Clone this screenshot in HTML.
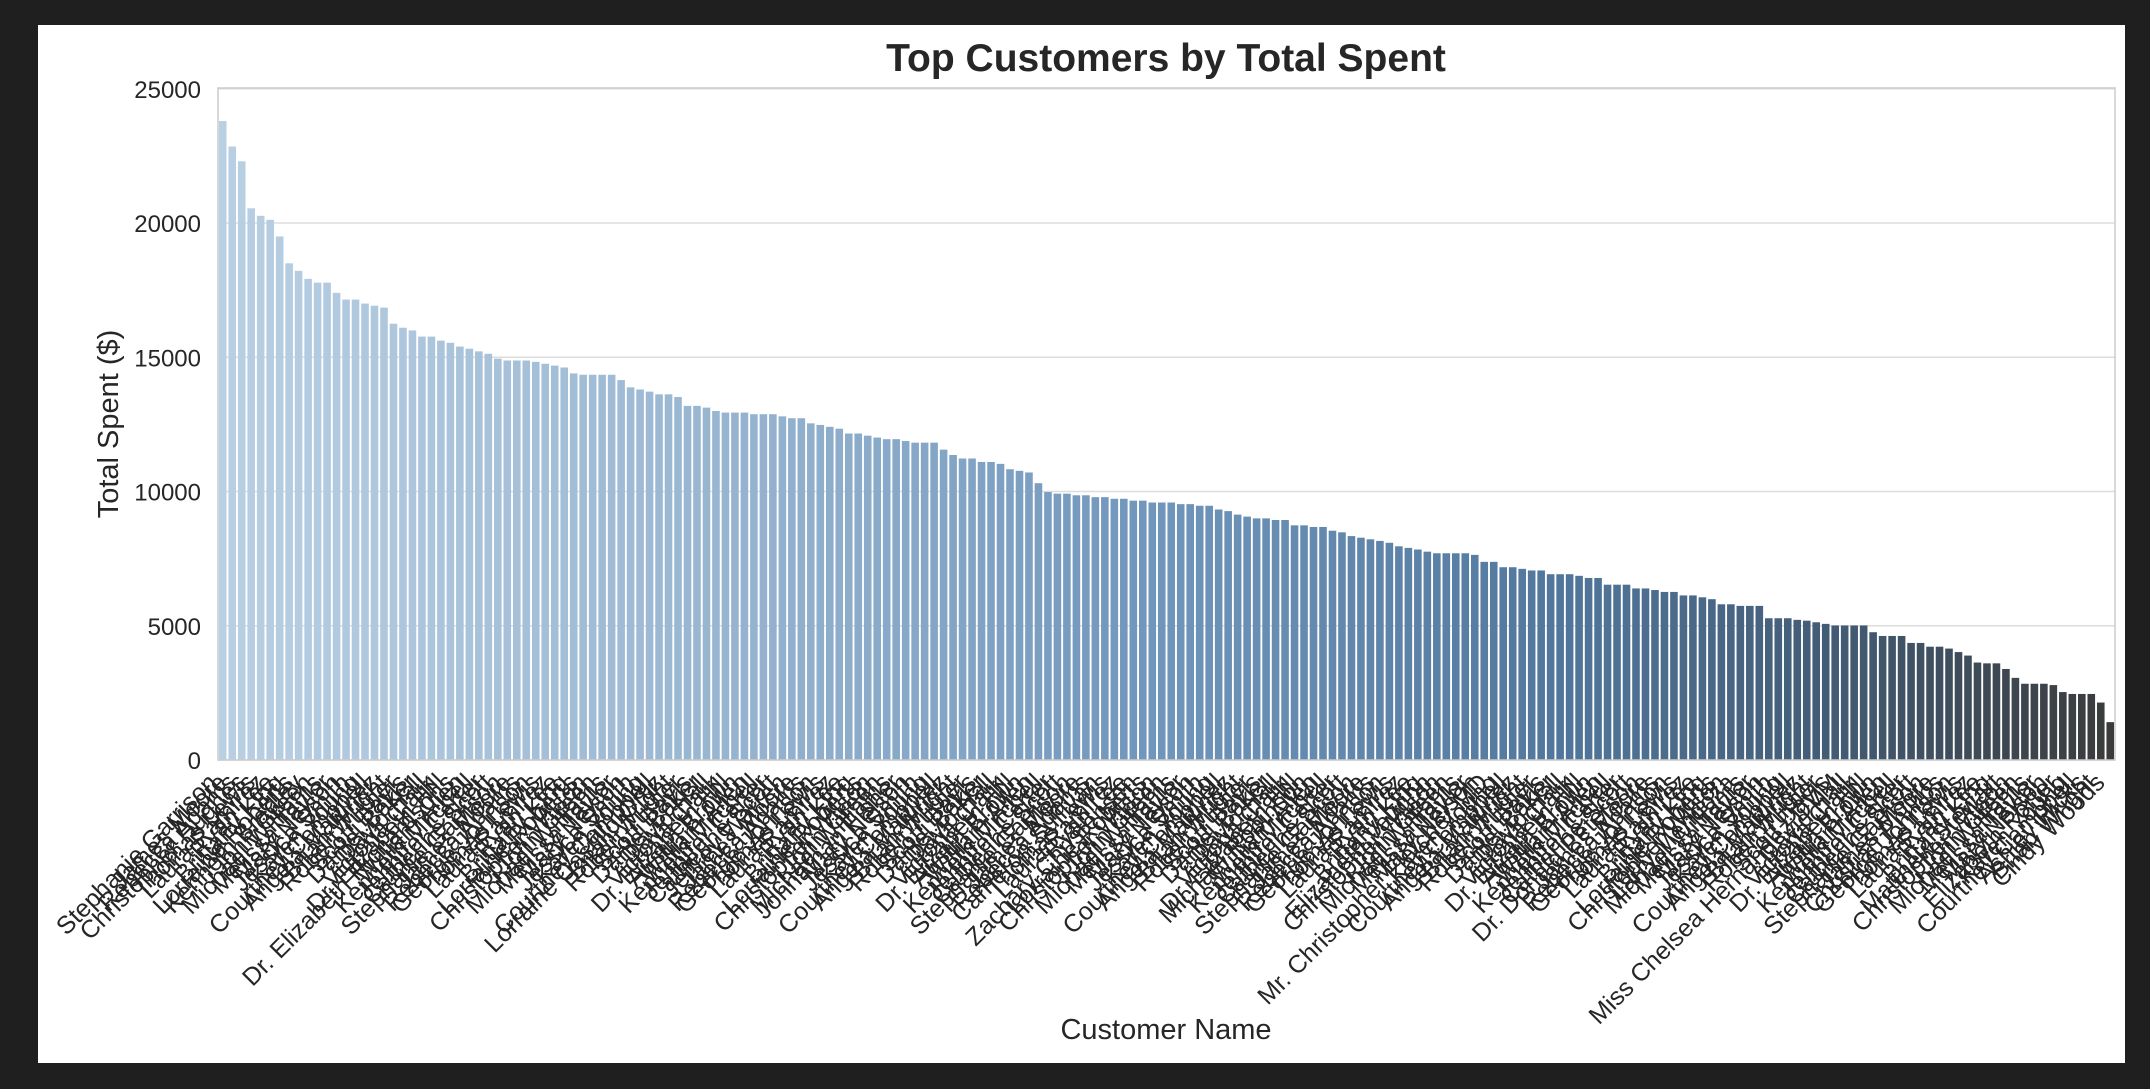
<!DOCTYPE html>
<html><head><meta charset="utf-8"><style>
html,body{margin:0;padding:0;background:#1f1f1f;}
svg{display:block;font-family:"Liberation Sans",Arial,sans-serif;}
</style></head><body>
<svg id="chart" width="2150" height="1089" viewBox="0 0 2150 1089" xmlns="http://www.w3.org/2000/svg">
<rect x="0" y="0" width="2150" height="1089" fill="#1f1f1f"/>
<rect x="38" y="25" width="2087" height="1038" fill="#ffffff"/>
<g id="grid"></g>
<g id="bars"></g>
<rect x="218" y="88" width="1897" height="672" fill="none" stroke="#cccccc" stroke-width="1.5"/>
<g id="yticks"></g>
<g id="xticks"></g>
<text x="1166" y="71" text-anchor="middle" font-size="39" font-weight="bold" fill="#262626">Top Customers by Total Spent</text>
<text x="1166" y="1039" text-anchor="middle" font-size="29" fill="#262626">Customer Name</text>
<text transform="translate(118,424) rotate(-90)" text-anchor="middle" font-size="29" fill="#262626">Total Spent ($)</text>
</svg>
<script>
const values = [23800,22850,22300,20550,20270,20120,19500,18500,18220,17920,17780,17780,17400,17150,17150,17000,16920,16850,16250,16100,16000,15770,15770,15620,15540,15400,15320,15220,15130,14950,14880,14880,14880,14830,14760,14690,14620,14400,14350,14350,14350,14350,14150,13880,13800,13720,13620,13620,13520,13190,13190,13125,13000,12940,12940,12940,12880,12880,12880,12800,12730,12730,12540,12480,12410,12340,12160,12160,12080,12010,11950,11950,11880,11820,11820,11820,11560,11360,11230,11230,11100,11100,11030,10830,10770,10710,10310,9980,9920,9920,9860,9860,9790,9790,9730,9730,9660,9660,9590,9590,9590,9530,9530,9470,9470,9330,9270,9140,9066,9000,9000,8940,8940,8740,8740,8680,8680,8540,8480,8340,8280,8220,8160,8090,7960,7900,7840,7760,7700,7700,7700,7700,7640,7380,7380,7180,7180,7120,7060,7060,6920,6920,6920,6860,6780,6780,6530,6530,6530,6390,6390,6330,6260,6260,6130,6130,6060,5990,5800,5800,5740,5740,5740,5280,5280,5280,5220,5190,5130,5070,5010,5010,5010,5010,4760,4620,4620,4620,4360,4360,4220,4220,4150,4020,3890,3630,3600,3600,3390,3060,2840,2840,2840,2790,2530,2460,2460,2460,2140,1410];
const firstNames = ["Stephanie","Mary","William","Christopher","David","Laura","Brian","James","Jessica","Kenneth","John","Victoria","Ryan","Robert","Rebecca","Karen","Jennifer","Michael","Dr. Elizabeth","Brittany","Scott","George","Courtney","Catherine","Melissa","Austin","Lorraine","Daniel","Thomas","Angela"];
const lastNames = ["Garrison","Williams","Hall","Johnson","Smith","Brown","Lee","Martinez","Carter","Wilson","Davis","Moore","Taylor","Clark","Lewis","Young","Allen","King","Wright","Scott","Green","Baker","Adams","Nelson","Hill","Ramirez","Campbell","Mitchell","Roberts","Turner"];
const specialNames = {0:"Stephanie Garrison",3:"Christopher Hughes",9:"Kenneth Bradley",25:"Dr. Elizabeth Richardsons",47:"Lorraine Castillo Ortiz",60:"Jeffrey Warren",72:"Johnathan Fisher",93:"Cameron Sullivan",97:"Zachary Christensen",115:"Michael Robinson",134:"Mr. Christopher Fletcher MD",128:"Elizabeth Vaughn",150:"Dr. Donald Peterson",160:"Larry Mendoza",171:"Miss Chelsea Hernandez DVM",182:"Christian Phillips",188:"Matthew Stewart",194:"Elizabeth Porter",197:"Ashley Hicks",199:"Cindy Woods"};
const names = values.map((v,i)=> specialNames[i] || (firstNames[(i*7)%firstNames.length]+" "+lastNames[(i*11)%lastNames.length]));
const yTicks = [0,5000,10000,15000,20000,25000];

const NS="http://www.w3.org/2000/svg";
const plotL=218, plotR=2115, plotT=88, plotB=760, yMax=25030;
const step=(plotR-plotL)/values.length;
function xPos(i){return plotL+step*(i+0.5);}
function yPos(v){return plotB-(v/yMax)*(plotB-plotT);}
function lerp(a,b,t){return a+(b-a)*t;}
const stops=[[0,[185,208,227]],[0.25,[154,183,210]],[0.5,[111,149,187]],[0.7,[82,120,158]],[0.86,[66,90,115]],[1,[59,59,59]]];
function colorAt(t){for(let k=1;k<stops.length;k++){if(t<=stops[k][0]){const a=stops[k-1],b=stops[k];const u=(t-a[0])/(b[0]-a[0]);return "rgb("+[0,1,2].map(j=>Math.round(lerp(a[1][j],b[1][j],u))).join(",")+")";}}return "rgb(59,59,59)";}

const grid=document.getElementById("grid"), yt=document.getElementById("yticks");
yTicks.forEach(t=>{
  const y=yPos(t);
  const l=document.createElementNS(NS,"line");
  l.setAttribute("x1",plotL);l.setAttribute("x2",plotR);l.setAttribute("y1",y);l.setAttribute("y2",y);
  l.setAttribute("stroke","#dddddd");l.setAttribute("stroke-width","1.5");
  
  
  grid.appendChild(l);
  const tx=document.createElementNS(NS,"text");
  tx.setAttribute("x",plotL-17);tx.setAttribute("y",y+9);tx.setAttribute("text-anchor","end");
  tx.setAttribute("font-size","24");tx.setAttribute("fill","#262626");
  tx.textContent=String(t);
  
  
  yt.appendChild(tx);
});
const bars=document.getElementById("bars"), xt=document.getElementById("xticks");
const bw=step*0.8;
values.forEach((v,i)=>{
  const r=document.createElementNS(NS,"rect");
  const y=yPos(v);
  r.setAttribute("x",xPos(i)-bw/2);r.setAttribute("width",bw);
  r.setAttribute("y",y);r.setAttribute("height",plotB-y);
  r.setAttribute("fill",colorAt(i/(values.length-1)));
  
  
  bars.appendChild(r);
  const tx=document.createElementNS(NS,"text");
  const ax=xPos(i)-4, ay=784;
  tx.setAttribute("transform","translate("+ax+","+ay+") rotate(-45)");
  tx.setAttribute("text-anchor","end");
  tx.setAttribute("font-size","25");tx.setAttribute("fill","#262626");
  tx.textContent=names[i];
  
  
  xt.appendChild(tx);
});
</script>
</body></html>
